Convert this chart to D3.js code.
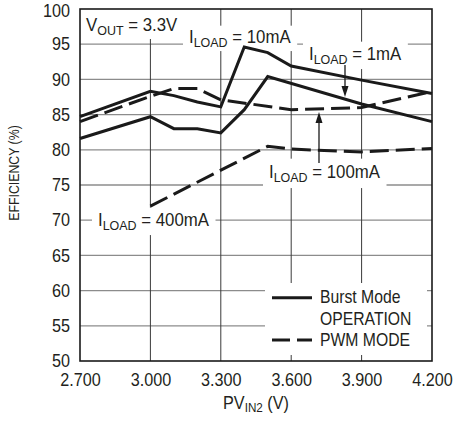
<!DOCTYPE html>
<html>
<head>
<meta charset="utf-8">
<script src="https://cdn.jsdelivr.net/npm/d3@7"></script>
<style>
  html, body { margin: 0; padding: 0; background: #fff; }
  svg { display: block; }
  text { font-family: "Liberation Sans", Arial, Helvetica, sans-serif; fill: #231f20; }
</style>
</head>
<body>
<svg id="chart" width="453" height="421"></svg>
<script>
"use strict";

// axis ticks
var xTicks = [2.7, 3.0, 3.3, 3.6, 3.9, 4.2];
var yTicks = [50, 55, 60, 65, 70, 75, 80, 85, 90, 95, 100];

// Burst Mode operation (solid) : [PVin2 (V), efficiency (%)]
var burst10mA = [[2.7, 84.7], [3.0, 88.3], [3.1, 87.7], [3.2, 86.8], [3.3, 86.1],
                 [3.4, 94.6], [3.5, 93.8], [3.6, 91.9], [3.9, 89.9], [4.2, 88.0]];
var burst1mA = [[2.7, 81.6], [3.0, 84.7], [3.1, 83.0], [3.2, 83.0], [3.3, 82.4],
                [3.4, 85.7], [3.5, 90.4], [3.9, 86.5], [4.2, 84.0]];

// PWM mode (dashed)
var pwm100mA = [[2.7, 84.0], [3.0, 87.6], [3.1, 88.7], [3.2, 88.7], [3.3, 87.1],
                [3.6, 85.7], [3.9, 86.0], [4.2, 88.3]];
var pwm400mA = [[3.0, 72.0], [3.5, 80.5], [3.6, 80.1], [3.9, 79.7], [4.2, 80.2]];

var svg = d3.select("#chart");

// the original uses a condensed face: squeeze Liberation Sans horizontally
var K = 0.9;     // tick labels, axis title
var KL = 0.96;   // annotations

var x = d3.scaleLinear().domain([2.7, 4.2]).range([80, 432]);
var y = d3.scaleLinear().domain([50, 100]).range([361, 9]);

var gridLayer = svg.append("g");
var boxLayer = svg.append("g");
var lineLayer = svg.append("g");
var textLayer = svg.append("g");

// grid
gridLayer.selectAll(".hgrid")
  .data(yTicks.slice(1, -1))
  .enter().append("line")
  .attr("class", "hgrid")
  .attr("x1", x(2.7)).attr("x2", x(4.2))
  .attr("y1", function (d) { return y(d); })
  .attr("y2", function (d) { return y(d); })
  .attr("stroke", "#8c8c8c").attr("stroke-width", 1.3);

gridLayer.selectAll(".vgrid")
  .data(xTicks.slice(1, -1))
  .enter().append("line")
  .attr("class", "vgrid")
  .attr("x1", function (d) { return x(d); })
  .attr("x2", function (d) { return x(d); })
  .attr("y1", y(100)).attr("y2", y(50))
  .attr("stroke", "#3a3a3a").attr("stroke-width", 1);

// axes (labels only, the frame is drawn separately)
var yAxis = svg.append("g")
  .attr("transform", "translate(" + x(2.7) + ",0)")
  .call(d3.axisLeft(y).tickValues(yTicks).tickSize(0).tickPadding(11));
var xAxis = svg.append("g")
  .attr("transform", "translate(0," + y(50) + ")")
  .call(d3.axisBottom(x).tickValues(xTicks).tickSize(0).tickPadding(12)
    .tickFormat(d3.format(".3f")));

[yAxis, xAxis].forEach(function (a) {
  a.select(".domain").remove();
  a.attr("font-family", null).attr("font-size", null);
  a.selectAll("text")
    .attr("font-size", 18)
    .attr("fill", "#231f20")
    .attr("transform", "scale(" + K + ",1)");
});
// top label sits a little lower in the original
yAxis.selectAll(".tick text").filter(function (d) { return d === 100; })
  .attr("y", 2);

// axis titles
svg.append("text")
  .attr("transform", "translate(19,173) rotate(-90) scale(0.88,1)")
  .attr("text-anchor", "middle")
  .attr("font-size", 14)
  .attr("fill", "#333")
  .text("EFFICIENCY (%)");

var xt = svg.append("text")
  .attr("transform", "translate(256,409) scale(" + K + ",1)")
  .attr("text-anchor", "middle")
  .attr("font-size", 18);
xt.append("tspan").text("PV");
xt.append("tspan").attr("font-size", 13).attr("dy", 3).text("IN2");
xt.append("tspan").attr("dy", -3).text(" (V)");

// data lines
var line = d3.line()
  .x(function (d) { return x(d[0]); })
  .y(function (d) { return y(d[1]); });

var series = [
  { data: burst10mA, dash: null },
  { data: burst1mA, dash: null },
  { data: pwm100mA, dash: "19,7" },
  { data: pwm400mA, dash: "19,7" }
];

lineLayer.selectAll(".curve")
  .data(series)
  .enter().append("path")
  .attr("class", "curve")
  .attr("d", function (d) { return line(d.data); })
  .attr("fill", "none")
  .attr("stroke", "#1a1a1a")
  .attr("stroke-width", 3)
  .attr("stroke-dasharray", function (d) { return d.dash; });

// annotation with a subscript and a white box behind it
function annotate(main, sub, rest, px, py, padX, padY) {
  var tf = "translate(" + px + "," + py + ") scale(" + KL + ",1)";
  var t = textLayer.append("text")
    .attr("transform", tf)
    .attr("font-size", 17.5);
  t.append("tspan").text(main);
  t.append("tspan").attr("font-size", 13).attr("dy", 4).text(sub);
  t.append("tspan").attr("dy", -4).text(rest);
  var b = t.node().getBBox();
  return boxLayer.append("rect")
    .attr("x", px + b.x * KL - padX).attr("y", py + b.y - padY)
    .attr("width", b.width * KL + 2 * padX).attr("height", b.height + 2 * padY)
    .attr("fill", "#fff");
}

var vbox = annotate("V", "OUT", " = 3.3V", 86, 31, 5, 2);
vbox.attr("x", x(2.7)).attr("y", y(100))
  .attr("width", 100).attr("height", 30);
annotate("I", "LOAD", " = 10mA", 189, 43, 6, 1);
annotate("I", "LOAD", " = 1mA", 309, 60, 6, 2);
annotate("I", "LOAD", " = 100mA", 269, 178, 6, 3);
annotate("I", "LOAD", " = 400mA", 98, 226, 6, 2);

// arrows
function arrow(ax, yFrom, yTip) {
  var dir = yTip > yFrom ? 1 : -1;
  textLayer.append("line")
    .attr("x1", ax).attr("x2", ax)
    .attr("y1", yFrom).attr("y2", yTip - dir * 8)
    .attr("stroke", "#1a1a1a").attr("stroke-width", 1.3);
  textLayer.append("path")
    .attr("d", "M" + ax + "," + yTip +
      "L" + (ax - 3.5) + "," + (yTip - dir * 11) +
      "L" + (ax + 3.5) + "," + (yTip - dir * 11) + "Z")
    .attr("fill", "#1a1a1a");
}
arrow(345, 65, 97);
arrow(319, 163, 112);

// legend
boxLayer.append("rect")
  .attr("x", 265).attr("y", 283).attr("width", 162).attr("height", 72)
  .attr("fill", "#fff");
var legendItems = [
  { label: ["Burst Mode", "OPERATION"], dash: null, ly: 297.7 },
  { label: ["PWM MODE"], dash: "18,7", ly: 340 }
];
var lg = textLayer.selectAll(".legend")
  .data(legendItems)
  .enter().append("g")
  .attr("class", "legend");
lg.append("line")
  .attr("x1", 272).attr("x2", 312)
  .attr("y1", function (d) { return d.ly; })
  .attr("y2", function (d) { return d.ly; })
  .attr("stroke", "#1a1a1a").attr("stroke-width", 3)
  .attr("stroke-dasharray", function (d) { return d.dash; });
lg.each(function (d) {
  var g = d3.select(this);
  d.label.forEach(function (s, i) {
    g.append("text")
      .attr("transform", "translate(320," + (d.ly + 5.5 + i * 21.5) + ") scale(0.9,1)")
      .attr("font-size", 17.5)
      .text(s);
  });
});

// frame
svg.append("rect")
  .attr("x", x(2.7)).attr("y", y(100))
  .attr("width", x(4.2) - x(2.7)).attr("height", y(50) - y(100))
  .attr("fill", "none")
  .attr("stroke", "#1a1a1a").attr("stroke-width", 1.6);
</script>
</body>
</html>
